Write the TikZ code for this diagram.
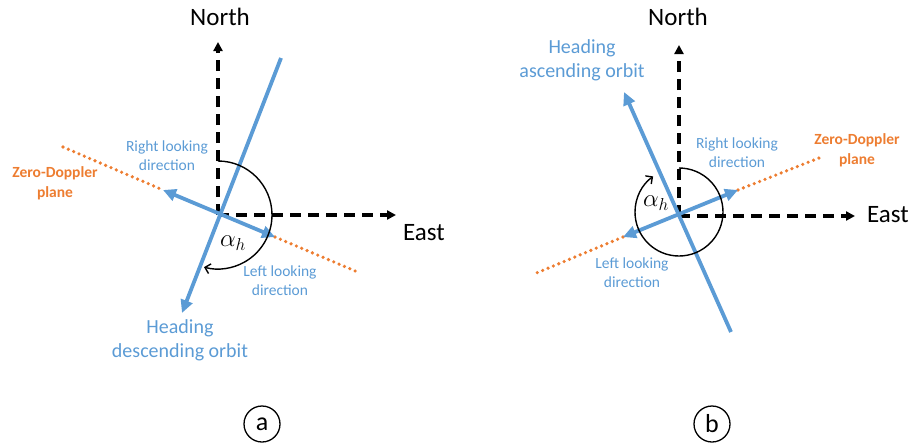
\documentclass[tikz,border=0pt]{standalone}
\usepackage{fontspec}
\setmainfont{Carlito}
\usetikzlibrary{arrows.meta}
\definecolor{hdgblue}{HTML}{5B9BD5}
\definecolor{zdorange}{HTML}{ED7D31}
\tikzset{
  axisarrow/.style={-{Triangle[length=9pt,width=9pt]}, line width=3.4pt, dash pattern=on 11pt off 7pt},
  headarrow/.style={-{Triangle[length=13pt,width=12pt]}, hdgblue, line width=3.8pt},
  lookarrow/.style={{Triangle[length=13pt,width=12pt]}-{Triangle[length=13pt,width=12pt]}, hdgblue, line width=3.8pt},
  zdline/.style={zdorange, line width=3.6pt, line cap=round, dash pattern=on 0pt off 5.8pt},
  anglearc/.style={-{Straight Barb[length=5pt,width=10pt]}, line width=1.4pt},
  compass/.style={font=\fontsize{25}{28}\selectfont},
  looklabel/.style={text=hdgblue, align=center, font=\fontsize{15.5}{19}\selectfont},
  zdlabel/.style={text=zdorange, align=center, font=\bfseries\fontsize{15.5}{20}\selectfont},
  hdglabel/.style={text=hdgblue, align=center, font=\fontsize{20}{24}\selectfont},
  panellabel/.style={draw, circle, line width=1.3pt, minimum size=36pt, inner sep=0pt, font=\fontsize{26}{26}\selectfont}
}

\begin{document}
\begin{tikzpicture}[x=1pt, y=1pt]
  \useasboundingbox (0,0) rectangle (912,-445);

  % (a) descending orbit
  \coordinate (Oa) at (218,-215);
  \coordinate (Na) at (218,-42);
  \coordinate (Ea) at (396,-215);
  \coordinate (tailA) at (281,-58);
  \coordinate (headA) at (182,-313);
  \coordinate (rlA) at (163,-190);
  \coordinate (llA) at (275,-237);
  \coordinate (zdA1) at (63,-147);
  \coordinate (zdA2) at (360,-273);

  \draw[axisarrow] (Oa) -- (Na);
  \draw[axisarrow] (Oa) -- (Ea);
  \draw[zdline] (zdA1) -- (rlA);
  \draw[zdline] (llA) -- (zdA2);
  \draw[headarrow] (tailA) -- (headA);
  \draw[lookarrow] (rlA) -- (llA);
  \draw[anglearc] ([shift={(90:54)}]Oa) arc[start angle=90, end angle=-105, radius=54];

  \node[compass] (northA) at (220,-17) {North};
  \node[compass] (eastA) at (424,-233) {East};
  \node[looklabel] (rightA) at (167,-156) {Right looking\\direction};
  \node[zdlabel] (zdA) at (55,-183) {Zero-Doppler\\plane};
  \node[looklabel] (leftA) at (280,-281) {Left looking\\direction};
  \node[hdglabel] (hdgA) at (180,-340) {Heading\\descending orbit};
  \node (alphaA) at (233,-243) {\fontsize{23}{23}\selectfont$\alpha_h$};
  \node[panellabel] (panelA) at (262,-424) {a};

  % (b) ascending orbit
  \coordinate (Ob) at (679,-216);
  \coordinate (Cb) at (679,-212);
  \coordinate (Nb) at (679,-45);
  \coordinate (Eb) at (855,-216);
  \coordinate (tailB) at (731,-332);
  \coordinate (headB) at (624,-92);
  \coordinate (rlB) at (738,-190);
  \coordinate (llB) at (623,-237);
  \coordinate (zdB1) at (819,-158);
  \coordinate (zdB2) at (534,-274);

  \draw[axisarrow] (Ob) -- (Nb);
  \draw[axisarrow] (Ob) -- (Eb);
  \draw[zdline] (rlB) -- (zdB1);
  \draw[zdline] (llB) -- (zdB2);
  \draw[headarrow] (tailB) -- (headB);
  \draw[lookarrow] (llB) -- (rlB);
  \draw[anglearc] ([shift={(90:44)}]Cb) arc[start angle=90, end angle=-234, radius=44];

  \node[compass] (northB) at (678,-17) {North};
  \node[compass] (eastB) at (888,-215) {East};
  \node[looklabel] (rightB) at (737,-153) {Right looking\\direction};
  \node[zdlabel] (zdB) at (857,-150) {Zero-Doppler\\plane};
  \node[looklabel] (leftB) at (632,-273) {Left looking\\direction};
  \node[hdglabel] (hdgB) at (582,-60) {Heading\\ascending orbit};
  \node (alphaB) at (656,-203) {\fontsize{23}{23}\selectfont$\alpha_h$};
  \node[panellabel] (panelB) at (712,-424) {b};
\end{tikzpicture}
\end{document}
